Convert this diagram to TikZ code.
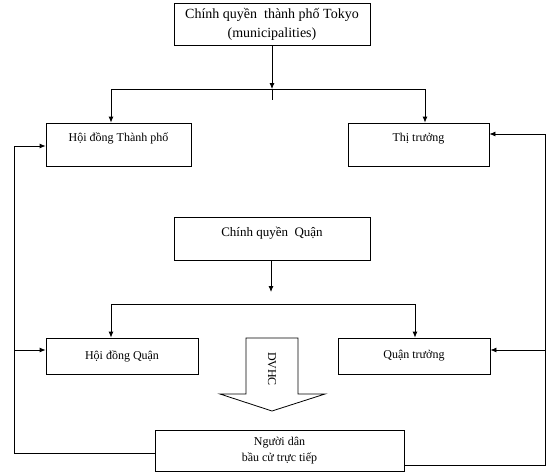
\documentclass[tikz,border=0pt]{standalone}
\usepackage{fontspec}
\setmainfont{Liberation Serif}
\usetikzlibrary{arrows.meta}

\begin{document}
\begin{tikzpicture}[x=1pt,y=-1pt,line width=0.8pt,
  >={Latex[length=6pt,width=5pt]},
  box/.style={draw,rectangle,inner sep=0pt,font=\fontsize{12}{14}\selectfont},
  topbox/.style={box,text height=18pt,text depth=25pt}]
\useasboundingbox[fill=white] (0,0) rectangle (555,474);
% boxes
\node[box,minimum width=196,minimum height=42,align=center,font=\fontsize{14}{19}\selectfont](tokyo) at (272,24){Chính quyền\ \ thành phố Tokyo\\(municipalities)};
\node[topbox,minimum width=145](hdtp) at (118.5,144.5){Hội đồng Thành phố};
\node[topbox,minimum width=141](tt) at (418.5,144.5){Thị trưởng};
\node[box,minimum width=196,text height=19pt,text depth=24pt,font=\fontsize{13}{15}\selectfont](cqq) at (272,238.5){Chính quyền\ \ Quận};
\node[box,minimum width=152,minimum height=36](hdq) at (122,356){Hội đồng Quận};
\node[box,minimum width=152,minimum height=36](qt) at (414,356){Quận trưởng};
\node[box,minimum width=249,minimum height=41,align=center,font=\fontsize{12}{16}\selectfont](nd) at (279.5,450.5){Người dân\\bầu cử trực tiếp};
%
\coordinate(s1) at (272,89);
\coordinate(s1b) at (272,100);
\coordinate(l1) at (111,89);
\coordinate(r1) at (425,89);
\draw[->](tokyo.south)--(s1);
\draw(s1)--(s1b);
\draw(l1)--(r1);
\draw[->](l1)--(l1 |- hdtp.north);
\draw[->](r1)--(r1 |- tt.north);
%
\coordinate(s2) at (271,292);
\coordinate(l2) at (111,304);
\coordinate(r2) at (415,304);
\draw[->](cqq.south -| s2)--(s2);
\draw(l2)--(r2);
\draw[->](l2)--(l2 |- hdq.north);
\draw[->](r2)--(r2 |- qt.north);
%
\coordinate(la) at (14,453);
\coordinate(lb) at (14,146);
\coordinate(lc) at (14,350);
\draw[->](nd.west |- la)--(la)--(lb)--(lb -| hdtp.west);
\draw[->](lc)--(lc -| hdq.west);
\coordinate(ra) at (545,465);
\coordinate(rb) at (545,134);
\coordinate(rc) at (545,350);
\draw[->](nd.east |- ra)--(ra)--(rb)--(rb -| tt.east);
\draw[->](rc)--(rc -| qt.east);
%
\draw(246,338)--(298,338)--(298,394)--(325,394)--(272,411)--(220,394)--(246,394)--cycle;
\node[rotate=-90,font=\fontsize{12}{14}\selectfont](dvhc) at (272,369){DVHC};
\end{tikzpicture}
\end{document}
